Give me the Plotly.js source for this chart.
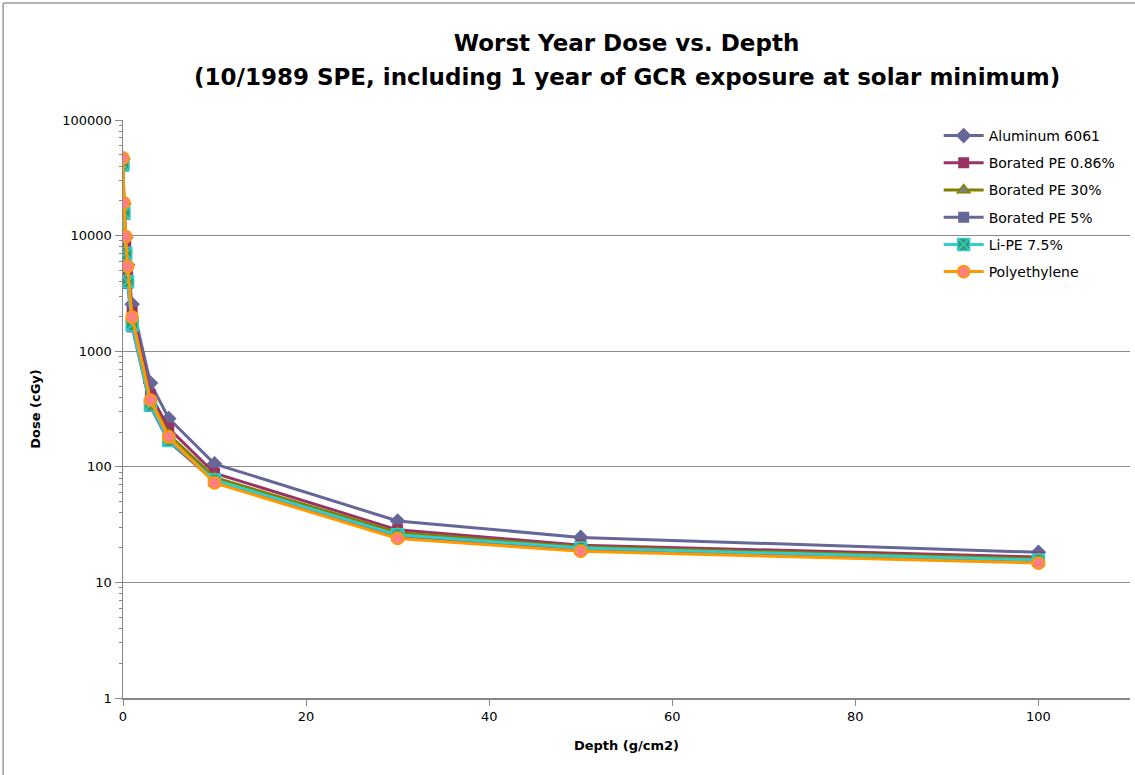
<!DOCTYPE html>
<html>
<head>
<meta charset="utf-8">
<script src="https://cdn.plot.ly/plotly-3.0.1.min.js"></script>
<style>html,body{margin:0;padding:0;background:#fff;}#chart{width:1135px;height:775px;}</style>
</head>
<body>
<div id="chart"></div>
<script>
const depth = [0, 0.1, 0.3, 0.5, 1, 3, 5, 10, 30, 50, 100];
const aluminum6061 = [46000, 18800, 9600, 5600, 2550, 530, 262, 106, 34, 24.5, 18.2];
const boratedPE086 = [44000, 18000, 8300, 4800, 2180, 420, 215, 88, 28.5, 21, 16.6];
const boratedPE30 = [42000, 16500, 7500, 4300, 1900, 380, 190, 81, 27, 20.3, 16.0];
const boratedPE5 = [40000, 15200, 6700, 3850, 1620, 332, 165, 75, 25.2, 19.3, 15.2];
const liPE75 = [41000, 15700, 7000, 4000, 1690, 343, 170, 77, 25.8, 19.8, 15.6];
const polyethylene = [46800, 19200, 9800, 5400, 1970, 378, 181, 72.5, 24.0, 18.6, 14.7];

const seriesNames = ['Aluminum 6061', 'Borated PE 0.86%', 'Borated PE 30%', 'Borated PE 5%', 'Li-PE 7.5%', 'Polyethylene'];
const seriesValues = [aluminum6061, boratedPE086, boratedPE30, boratedPE5, liPE75, polyethylene];
const yTickVals = [1, 10, 100, 1000, 10000, 100000];
const yTickText = ['1', '10', '100', '1000', '10000', '100000'];
const xTickVals = [0, 20, 40, 60, 80, 100];
const titleLine1 = 'Worst Year Dose vs. Depth';
const titleLine2 = '(10/1989 SPE, including 1 year of GCR exposure at solar minimum)';

const styles = [
  {line: '#666699', symbol: 'diamond', fill: '#666699', mline: '#666699', mw: 0, size: 12},
  {line: '#993366', symbol: 'square', fill: '#993366', mline: '#993366', mw: 0, size: 11},
  {line: '#808000', symbol: 'triangle-up', fill: '#808080', mline: '#808000', mw: 1.5, size: 11},
  {line: '#666699', symbol: 'square', fill: '#666699', mline: '#666699', mw: 0, size: 11},
  {line: '#33cccc', symbol: 'square-x', fill: '#339966', mline: '#33cccc', mw: 1.5, size: 12},
  {line: '#ff9900', symbol: 'circle', fill: '#ff8080', mline: '#ff9900', mw: 1.8, size: 12}
];

const font = '"DejaVu Sans", "Open Sans", sans-serif';

const traces = seriesNames.map((name, i) => ({
  x: depth,
  y: seriesValues[i],
  name: name,
  type: 'scatter',
  mode: 'lines+markers',
  legendgroup: 'g' + i,
  line: {color: styles[i].line, width: 3},
  marker: {symbol: styles[i].symbol, color: styles[i].fill, size: styles[i].size,
           line: {color: styles[i].mline, width: styles[i].mw}}
}));

const layout = {
  width: 1135, height: 775,
  margin: {l: 123, r: 5, t: 120, b: 77},
  paper_bgcolor: '#ffffff', plot_bgcolor: '#ffffff',
  font: {family: font, color: '#000000', size: 13},
  title: {
    text: '<b>' + titleLine1 + '</b>',
    font: {family: font, size: 23, color: '#000000'},
    x: 0.5, xref: 'paper', xanchor: 'center',
    y: 1 - 43 / 775, yref: 'container', yanchor: 'middle'
  },
  annotations: [{
    text: '<b>' + titleLine2 + '</b>',
    font: {family: font, size: 23, color: '#000000'},
    xref: 'paper', yref: 'paper', x: 0.5, y: (698 - 77) / 578,
    xanchor: 'center', yanchor: 'middle', showarrow: false
  }],
  xaxis: {
    range: [0, 110],
    tickvals: xTickVals,
    showgrid: false, zeroline: false,
    showline: true, linecolor: '#878787', linewidth: 1.5,
    ticks: 'outside', ticklen: 6, tickcolor: '#878787',
    tickfont: {family: font, size: 13},
    title: {text: '<b>Depth (g/cm2)</b>', font: {family: font, size: 13}, standoff: 18}
  },
  yaxis: {
    type: 'log',
    range: [0, 5],
    tickvals: yTickVals,
    ticktext: yTickText,
    showgrid: true, gridcolor: '#8c8c8c', gridwidth: 1,
    zeroline: false,
    showline: true, linecolor: '#878787', linewidth: 1.5,
    ticks: 'outside', ticklen: 7, tickcolor: '#878787',
    minor: {ticks: 'outside', ticklen: 3, tickcolor: '#878787', dtick: 'D1', showgrid: false},
    tickfont: {family: font, size: 13},
    title: {text: '<b>Dose (cGy)</b>', font: {family: font, size: 13}, standoff: 18}
  },
  legend: {
    x: 0.81, y: 1.0, xanchor: 'left', yanchor: 'top',
    bgcolor: 'rgba(0,0,0,0)', borderwidth: 0,
    font: {family: font, size: 14},
    tracegroupgap: 6,
    itemwidth: 40
  },
  shapes: [
    {type: 'line', xref: 'paper', yref: 'paper', x0: -0.119, x1: 1.01, y0: 1.2024, y1: 1.2024, line: {color: '#9a9a9a', width: 1.5}},
    {type: 'line', xref: 'paper', yref: 'paper', x0: -0.119, x1: -0.119, y0: 1.2024, y1: -0.14, line: {color: '#9a9a9a', width: 1.5}}
  ],
  showlegend: true
};

Plotly.newPlot('chart', traces, layout, {displayModeBar: false, staticPlot: true});
</script>
</body>
</html>
